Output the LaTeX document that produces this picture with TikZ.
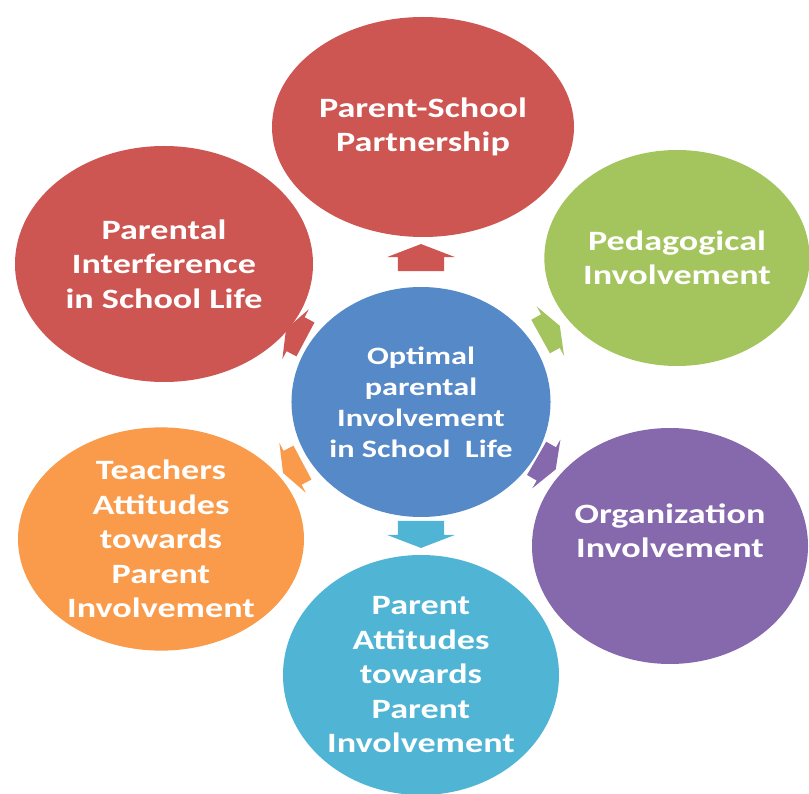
\documentclass[tikz,border=0pt]{standalone}
\usepackage{fontspec}
\newfontfamily\lblfont[FakeStretch=1.29]{Carlito}
\usetikzlibrary{shapes.geometric, shapes.arrows}
\definecolor{redc}{RGB}{205,85,82}
\definecolor{greenc}{RGB}{164,196,94}
\definecolor{purplec}{RGB}{134,105,172}
\definecolor{bluec}{RGB}{85,137,200}
\definecolor{cyanc}{RGB}{80,180,212}
\definecolor{orangec}{RGB}{249,155,75}
\tikzset{bubble/.style={ellipse, inner sep=0pt, text=white, align=center, font=\lblfont\bfseries\fontsize{28}{34.5}\selectfont},
         hub/.style={bubble, font=\lblfont\bfseries\fontsize{25}{31}\selectfont},
         blockarrow/.style={single arrow, draw=none, inner xsep=0pt, inner ysep=23pt, minimum height=27pt,
                            single arrow head extend=11pt, single arrow tip angle=138, single arrow head indent=0pt},
         sidearrow/.style={blockarrow, inner ysep=19pt, minimum height=22pt, single arrow head extend=9pt},
        }

\begin{document}
\begin{tikzpicture}[x=1pt, y=-1pt]
        \useasboundingbox (0,0) rectangle (809,794);

        \node[bubble, fill=redc, minimum width=302pt, minimum height=220pt](e1)at(423,127){Parent-School\\Partnership};
        \node[bubble, fill=greenc, minimum width=264pt, minimum height=216pt](e2)at(677,258){Pedagogical\\Involvement};
        \node[bubble, fill=purplec, minimum width=276pt, minimum height=236pt](e3)at(670,546){};
        \node[bubble](t3)at([yshift=15pt]e3.center){Organization\\Involvement};
        \node[bubble, fill=cyanc, minimum width=276pt, minimum height=240pt](e4)at(421,675){Parent\\Attitudes\\towards\\Parent\\Involvement};
        \node[bubble, fill=orangec, minimum width=286pt, minimum height=222pt](e5)at(161,539){Teachers\\Attitudes\\towards\\Parent\\Involvement};
        \node[bubble, fill=redc, minimum width=298pt, minimum height=236pt](e6)at(164,264){Parental\\Interference\\in School Life};
        \node[hub, fill=bluec, minimum width=246pt, minimum height=230pt](c)at(421,402){Optimal\\parental\\Involvement\\in School~~Life};

        \node[blockarrow, fill=redc, rotate=90](a1)at(421,262){};
        \node[sidearrow, fill=greenc, rotate=29](a2)at(547,333){};
        \node[sidearrow, fill=purplec, rotate=-30](a3)at(543,462){};
        \node[blockarrow, fill=cyanc, rotate=-90](a4)at(421,530){};
        \node[sidearrow, fill=orangec, rotate=208](a5)at(296,466){};
        \node[sidearrow, fill=redc, rotate=152](a6)at(299,336){};
    \end{tikzpicture}
\end{document}
